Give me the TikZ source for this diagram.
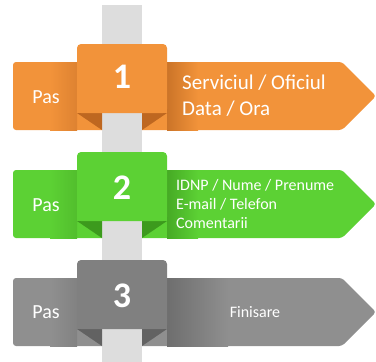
\documentclass[tikz,border=0pt]{standalone}
\usepackage{fontspec}
\setmainfont{Carlito}
\definecolor{orA}{HTML}{F2933A}
\definecolor{orS}{HTML}{DE8231}
\definecolor{orR}{HTML}{CB7428}
\definecolor{orD}{HTML}{BE6720}
\definecolor{grA}{HTML}{5CD134}
\definecolor{grS}{HTML}{52BE2D}
\definecolor{grR}{HTML}{46AA25}
\definecolor{grD}{HTML}{3C9A1D}
\definecolor{gyA}{HTML}{8F8F8F}
\definecolor{gyQ}{HTML}{808080}
\definecolor{gyS}{HTML}{828282}
\definecolor{gyR}{HTML}{6E6E6E}
\definecolor{gyD}{HTML}{626262}
\definecolor{poleC}{HTML}{DDDDDD}
\begin{document}
\begin{tikzpicture}[x=1pt,y=-1pt,
  bannerbox/.style={rounded corners=3pt},
  numtext/.style={text=white,font=\fontsize{36}{40}\selectfont\bfseries},
  pastext/.style={text=white,font=\fontsize{20}{24}\selectfont},
  bigtext/.style={text=white,font=\fontsize{21}{26}\selectfont,align=left,anchor=west,inner sep=0pt},
  smalltext/.style={text=white,font=\fontsize{16}{19}\selectfont,align=left,anchor=west,inner sep=0pt}]
\useasboundingbox (0,0) rectangle (376,362);
% banners
\fill[orA,bannerbox] (13,62) -- (342,62) -- (376,96) -- (342,130) -- (13,130) -- cycle;
\fill[grA,bannerbox] (13,170) -- (342,170) -- (376,204) -- (342,238) -- (13,238) -- cycle;
\fill[gyA,bannerbox] (13,278) -- (342,278) -- (376,312) -- (342,346) -- (13,346) -- cycle;
% shading near squares
\shade[left color=orA,right color=orS] (50,62) rectangle (77,130);
\shade[left color=orR,right color=orA] (167,62) rectangle (198,130);
\shade[left color=grA,right color=grS] (50,170) rectangle (77,238);
\shade[left color=grR,right color=grA] (167,170) rectangle (198,238);
\shade[left color=gyA,right color=gyS] (50,278) rectangle (77,346);
\shade[left color=gyR,right color=gyA] (167,278) rectangle (228,346);
% pole
\fill[poleC] (102,5) rectangle (142,362);
% step 1
\fill[orD] (77,113) -- (102,113) -- (102,130) -- cycle;
\fill[orD] (142,113) -- (167,113) -- (142,130) -- cycle;
\fill[orA,rounded corners=4pt] (77,44) rectangle (167,113);
\fill[orA] (77,100) rectangle (167,113);
\node[numtext] (n1) at (122,77) {1};
\node[pastext] (p1) at (46,97) {Pas};
\node[bigtext] (t1) at (182,96) {Serviciul / Oficiul\\Data / Ora};
% step 2
\fill[grD] (77,221) -- (102,221) -- (102,238) -- cycle;
\fill[grD] (142,221) -- (167,221) -- (142,238) -- cycle;
\fill[grA,rounded corners=4pt] (77,152) rectangle (167,221);
\fill[grA] (77,208) rectangle (167,221);
\node[numtext] (n2) at (122,188) {2};
\node[pastext] (p2) at (46,205) {Pas};
\node[smalltext] (t2) at (176,204) {IDNP / Nume / Prenume\\E-mail / Telefon\\Comentarii};
% step 3
\fill[gyD] (77,329) -- (102,329) -- (102,346) -- cycle;
\fill[gyD] (142,329) -- (167,329) -- (142,346) -- cycle;
\fill[gyQ,rounded corners=4pt] (77,260) rectangle (167,329);
\fill[gyQ] (77,316) rectangle (167,329);
\node[numtext] (n3) at (122,296) {3};
\node[pastext] (p3) at (46,312) {Pas};
\node[smalltext,anchor=center] (t3) at (255,312) {Finisare};
\end{tikzpicture}
\end{document}
